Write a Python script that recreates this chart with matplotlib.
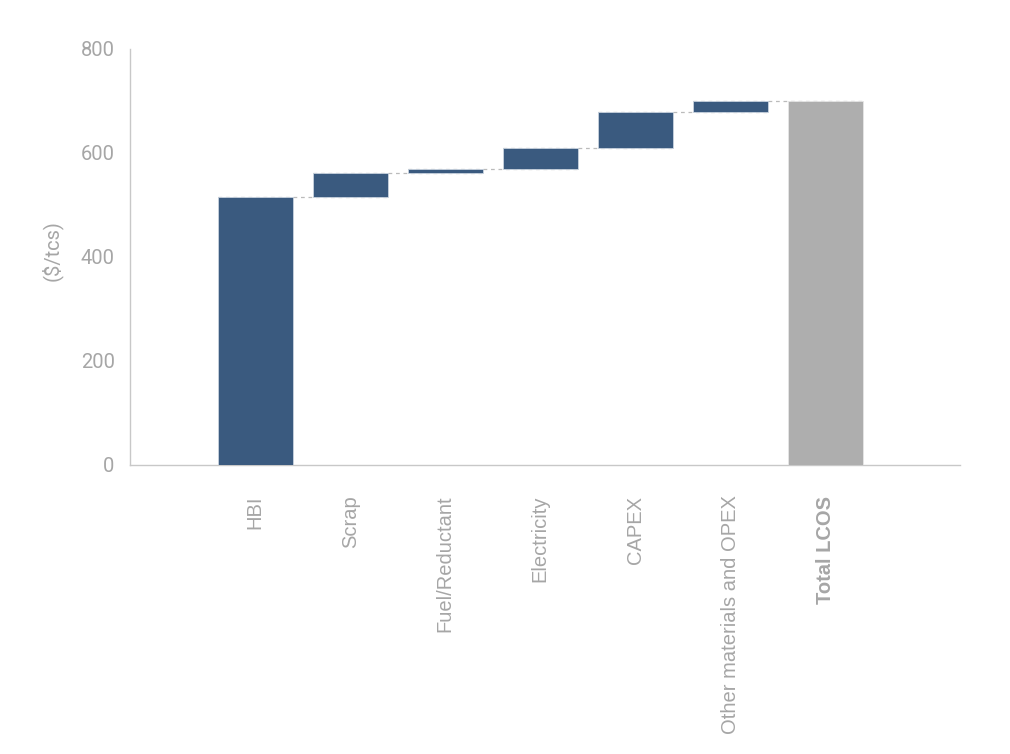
import matplotlib
matplotlib.use("Agg")
import matplotlib.pyplot as plt
import numpy as np

categories = ["HBI", "Scrap", "Fuel/Reductant", "Electricity", "CAPEX",
              "Other materials and OPEX", "Total LCOS"]
increments = [515, 47, 8, 40, 69, 21]
total = sum(increments)
yticks = [0, 200, 400, 600, 800]

blue = "#3A5A7F"
grey_bar = "#AEAEAE"
text_grey = "#A6A6A6"
spine_grey = "#C8C8C8"

fig = plt.figure(figsize=(10.10, 7.54), dpi=100)
ax = fig.add_axes([130/1010, 1-465/754, (960-130)/1010, (465-49)/754])

x = np.arange(len(categories))
bottoms = np.concatenate([[0], np.cumsum(increments)[:-1]])
width = 0.79
ax.bar(x[:-1], increments, bottom=bottoms, width=width, color=blue,
       edgecolor="#C9D3DF", linewidth=0.6, zorder=3)
ax.bar(x[-1], total, width=width, color=grey_bar, edgecolor="#E6E6E6",
       linewidth=0.6, zorder=3)

tops = np.cumsum(increments)
for i, t in enumerate(tops):
    ax.plot([x[i] - width/2, x[i+1] + width/2], [t, t], color="#BBBBBB",
            lw=0.9, ls=(0, (3, 3)), zorder=2)

ax.set_xlim(-1.32, 7.42)
ax.set_ylim(0, 800)
ax.set_yticks(yticks)
ax.set_yticklabels([str(v) for v in yticks], family="Roboto", fontsize=14.5,
                   color=text_grey)
ax.set_xticks(x)
ax.set_xticklabels(categories, rotation=90, family="Liberation Sans",
                   fontsize=14.5, color=text_grey, va="top", ha="center")
ax.get_xticklabels()[-1].set_fontweight("bold")
ax.tick_params(axis="both", length=0)
ax.tick_params(axis="x", pad=22)
ax.tick_params(axis="y", pad=11)

for s in ["top", "right"]:
    ax.spines[s].set_visible(False)
for s in ["left", "bottom"]:
    ax.spines[s].set_color(spine_grey)
    ax.spines[s].set_linewidth(1.0)

fig.text(52/1010, 1-251/754, "($/tcs)", rotation=90, family="Roboto",
         fontsize=14.5, color=text_grey, ha="center", va="center")

fig.savefig("out.png", dpi=100, facecolor="white")
